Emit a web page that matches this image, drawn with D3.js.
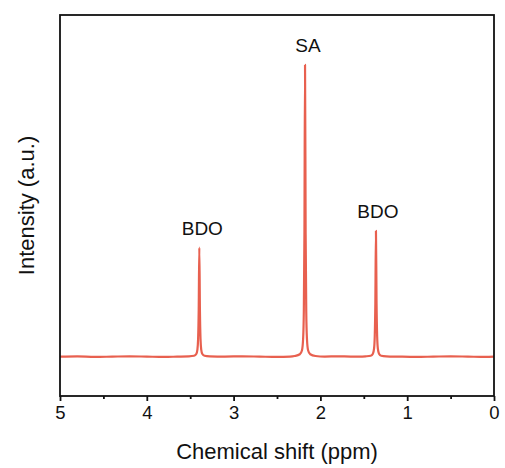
<!DOCTYPE html>
<html>
<head>
<meta charset="utf-8">
<script src="https://cdn.jsdelivr.net/npm/d3@7"></script>
<style>
  html, body { margin: 0; padding: 0; background: #fff; }
  svg { display: block; }
  text { font-family: Arial, "Liberation Sans", sans-serif; fill: #111; }
</style>
</head>
<body>
<div id="chart"></div>
<script>
// 1H NMR spectrum: chemical shift (ppm) vs intensity (a.u.)
const shift = [
  5.00, 4.80, 4.60, 4.40, 4.20, 4.00, 3.80, 3.65,
  3.515, 3.455, 3.430, 3.417, 3.409, 3.402, 3.395, 3.388, 3.381, 3.373, 3.360, 3.335, 3.275,
  3.10, 2.90, 2.70, 2.50, 2.35,
  2.297, 2.237, 2.212, 2.199, 2.191, 2.184, 2.177, 2.170, 2.163, 2.155, 2.142, 2.117, 2.057,
  1.95, 1.80, 1.65, 1.55,
  1.480, 1.420, 1.395, 1.382, 1.374, 1.367, 1.360, 1.353, 1.346, 1.338, 1.325, 1.300, 1.240,
  1.10, 0.90, 0.70, 0.50, 0.30, 0.10, 0.00
];
const intensity = [
  0.000, 0.001, -0.001, 0.000, 0.001, 0.000, -0.001, 0.000,
  0.001, 0.003, 0.009, 0.024, 0.060, 0.160, 0.374, 0.160, 0.060, 0.024, 0.009, 0.003, 0.001,
  0.000, 0.001, 0.000, -0.001, 0.000,
  0.002, 0.008, 0.022, 0.062, 0.155, 0.420, 1.000, 0.420, 0.155, 0.062, 0.022, 0.008, 0.002,
  0.000, 0.001, 0.000, 0.000,
  0.001, 0.003, 0.010, 0.027, 0.068, 0.182, 0.431, 0.182, 0.068, 0.027, 0.010, 0.003, 0.001,
  0.000, -0.001, 0.000, 0.001, 0.000, -0.001, 0.000
];

// Peak assignments
const peakLabels = ["BDO", "SA", "BDO"];
const peakShifts = [3.395, 2.177, 1.360];
const peakHeights = [0.374, 1.000, 0.431];

const majorTicks = [5, 4, 3, 2, 1, 0];
const minorTicks = [4.5, 3.5, 2.5, 1.5, 0.5];

const W = 505, H = 468;
const margin = { left: 60, right: 11, top: 15, bottom: 72 };

const svg = d3.select("#chart").append("svg")
  .attr("width", W).attr("height", H);

const x = d3.scaleLinear().domain([5, 0]).range([margin.left, W - margin.right]);
const y = d3.scaleLinear().domain([-0.135, 1.171]).range([H - margin.bottom, margin.top]);

const points = shift.map((s, i) => ({ s, v: intensity[i] }));

const line = d3.line()
  .x(d => x(d.s))
  .y(d => y(d.v))
  .curve(d3.curveMonotoneX);

svg.append("path")
  .datum(points)
  .attr("d", line)
  .attr("fill", "none")
  .attr("stroke", "#e8604f")
  .attr("stroke-width", 2.2)
  .attr("stroke-linejoin", "round");

// Frame
svg.append("rect")
  .attr("x", x(5)).attr("y", margin.top)
  .attr("width", x(0) - x(5))
  .attr("height", H - margin.bottom - margin.top)
  .attr("fill", "none")
  .attr("stroke", "#111")
  .attr("stroke-width", 1.8);

// X axis: major ticks with labels, minor ticks without
const xAxis = svg.append("g")
  .attr("transform", `translate(0,${H - margin.bottom})`)
  .call(d3.axisBottom(x).tickValues(majorTicks).tickSize(5).tickSizeOuter(0).tickPadding(5).tickFormat(d3.format("d")));
xAxis.select(".domain").remove();
xAxis.selectAll(".tick line").attr("stroke", "#111").attr("stroke-width", 1.8);
xAxis.selectAll(".tick text")
  .attr("font-size", 18.5)
  .attr("font-family", "Arial, 'Liberation Sans', sans-serif")
  .attr("fill", "#111");

const xMinor = svg.append("g")
  .attr("transform", `translate(0,${H - margin.bottom})`)
  .call(d3.axisBottom(x).tickValues(minorTicks).tickSize(3).tickSizeOuter(0).tickFormat(""));
xMinor.select(".domain").remove();
xMinor.selectAll(".tick line").attr("stroke", "#111").attr("stroke-width", 1.8);

// Axis titles
svg.append("text")
  .attr("x", (x(5) + x(0)) / 2)
  .attr("y", 459)
  .attr("text-anchor", "middle")
  .attr("font-size", 22)
  .text("Chemical shift (ppm)");

svg.append("text")
  .attr("transform", `translate(34,${(margin.top + H - margin.bottom) / 2}) rotate(-90)`)
  .attr("text-anchor", "middle")
  .attr("font-size", 22)
  .text("Intensity (a.u.)");

// Peak labels above each peak
svg.selectAll(".peak-label")
  .data(peakLabels)
  .enter().append("text")
  .attr("class", "peak-label")
  .attr("x", (d, i) => x(peakShifts[i]) + (i === 2 ? 2 : 3))
  .attr("y", (d, i) => y(peakHeights[i]) - 13)
  .attr("text-anchor", "middle")
  .attr("font-size", 19)
  .text(d => d);
</script>
</body>
</html>
